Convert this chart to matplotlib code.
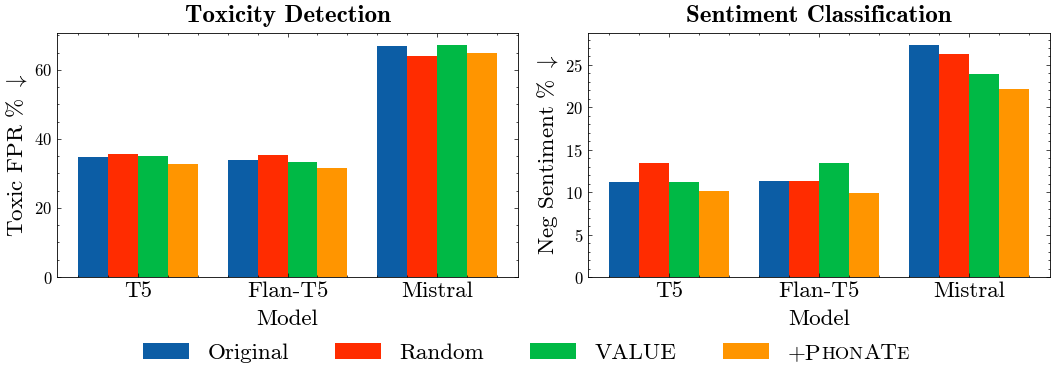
import numpy as np
import matplotlib
matplotlib.use("Agg")
from matplotlib import pyplot as plt
from matplotlib.ticker import AutoMinorLocator

plt.rcParams["font.family"] = "serif"
plt.rcParams["font.serif"] = ["cmr10"]
plt.rcParams["mathtext.fontset"] = "cm"
plt.rcParams["axes.formatter.use_mathtext"] = True

models = ["T5", "Flan-T5", "Mistral"]
methods = ["Original", "Random", "VALUE", "+PhonATe"]
colors = ["#0C5DA5", "#FF2C00", "#00B945", "#FF9500"]

# values
toxic_fpr = {
    "Original": [34.8, 33.9, 66.8],
    "Random":   [35.7, 35.4, 64.1],
    "VALUE":    [35.1, 33.4, 67.3],
    "+PhonATe": [32.6, 31.5, 65.0],
}
neg_sent = {
    "Original": [11.2, 11.3, 27.4],
    "Random":   [13.4, 11.3, 26.3],
    "VALUE":    [11.2, 13.4, 23.9],
    "+PhonATe": [10.1, 9.9, 22.2],
}

FS = 16.6
W, H = 1052, 366
fig = plt.figure(figsize=(W/100, H/100), dpi=100)
ax1 = fig.add_axes([57/W, 1 - 277/H, 461/W, 244/H])
ax2 = fig.add_axes([588/W, 1 - 277/H, 462/W, 244/H])

x = np.arange(len(models))
bw = 0.2
offs = [-0.3, -0.1, 0.1, 0.3]

for ax, data, title, ylab in [(ax1, toxic_fpr, "Toxicity Detection", "Toxic FPR % $\\downarrow$"),
                              (ax2, neg_sent, "Sentiment Classification", "Neg Sentiment % $\\downarrow$")]:
    for i, m in enumerate(methods):
        ax.bar(x + offs[i], data[m], bw, color=colors[i], label=m)
    ax.set_xticks(x)
    ax.set_xticklabels(models)
    ax.xaxis.set_minor_locator(AutoMinorLocator(5))
    ax.yaxis.set_minor_locator(AutoMinorLocator())
    ax.tick_params(which="both", direction="in", top=True, right=True, width=0.5)
    ax.tick_params(which="major", length=3)
    ax.tick_params(which="minor", length=1.5)
    ax.tick_params(axis="x", labelsize=FS)
    ax.tick_params(axis="y", labelsize=12)
    for s in ax.spines.values():
        s.set_linewidth(0.6)
    ax.set_xlabel("Model", fontsize=FS, labelpad=6)
    ax.set_ylabel(ylab, fontsize=FS)
    ax.set_title(title, fontsize=18, fontfamily="cmb10", pad=8)

handles, labels = ax1.get_legend_handles_labels()
labels[3] = "+P"
leg = fig.legend(handles, labels, loc="center left", bbox_to_anchor=(122/W, 0.036),
                 ncol=4, frameon=False, fontsize=FS)

# small caps for the last label, pieced together
fig.canvas.draw()
r = fig.canvas.get_renderer()
t = leg.get_texts()[3]
bx, by = t.get_transform().transform(t.get_position())
bx += t.get_window_extent(r).width
inv = fig.transFigure.inverted()
for piece, fs in [("HON", 13.2), ("AT", FS), ("E", 13.2)]:
    fx, fy = inv.transform((bx, by))
    tt = fig.text(fx, fy, piece, fontsize=fs, va="baseline", ha="left")
    bx += tt.get_window_extent(r).width

fig.savefig("out.png", dpi=100)
